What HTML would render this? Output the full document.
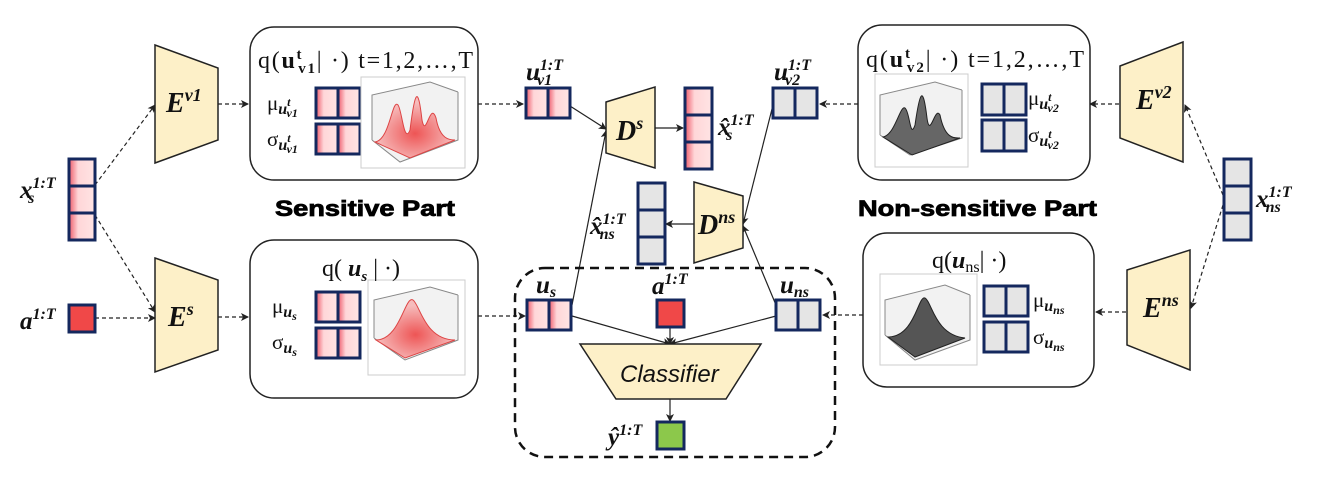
<!DOCTYPE html>
<html><head><meta charset="utf-8"><style>
body{margin:0;background:#fff}
svg{display:block}
.t{font-family:"Liberation Serif","DejaVu Serif",serif}
.bi{font-family:"Liberation Serif",serif;font-weight:bold;font-style:italic}
.hd{font-family:"Liberation Sans","DejaVu Sans",sans-serif;font-weight:bold}
</style></head><body>
<svg width="1331" height="478" viewBox="0 0 1331 478" xmlns="http://www.w3.org/2000/svg">
<defs>
<linearGradient id="pk" x1="0" x2="1" y1="0" y2="0">
<stop offset="0" stop-color="#ee5a6a"/><stop offset="0.35" stop-color="#ffd6d8"/><stop offset="1" stop-color="#ffe4e4"/></linearGradient>
<marker id="ah" markerWidth="8" markerHeight="8" refX="7" refY="4" orient="auto" markerUnits="userSpaceOnUse">
<path d="M0,0 L8,4 L0,8 L2,4 z" fill="#222"/></marker>
<radialGradient id="rd" cx="0.5" cy="0.6" r="0.5"><stop offset="0" stop-color="#e55"/><stop offset="1" stop-color="#f6bcbc"/></radialGradient>
</defs>
<g fill="none" stroke="#222" stroke-width="1.2" marker-end="url(#ah)">
<g stroke-dasharray="4,3">
<line x1="95" y1="185" x2="155" y2="105"/>
<line x1="95" y1="215" x2="155" y2="312"/>
<line x1="95" y1="318" x2="155" y2="318"/>
<line x1="218" y1="104" x2="248" y2="104"/>
<line x1="218" y1="317" x2="248" y2="317"/>
<line x1="478" y1="104" x2="523" y2="104"/>
<line x1="478" y1="316" x2="525" y2="316"/>
<line x1="1119" y1="104" x2="1090" y2="104"/>
<line x1="1126" y1="312" x2="1096" y2="312"/>
<line x1="858" y1="104" x2="820" y2="104"/>
<line x1="863" y1="315" x2="823" y2="315"/>
<line x1="1223" y1="195" x2="1185" y2="105"/>
<line x1="1223" y1="205" x2="1191" y2="308"/>
</g>
<line x1="570" y1="106" x2="606" y2="129"/>
<line x1="572" y1="305" x2="606" y2="131"/>
<line x1="655" y1="128" x2="683" y2="128"/>
<line x1="773" y1="105" x2="743" y2="224"/>
<line x1="776" y1="305" x2="743" y2="226"/>
<line x1="694" y1="224" x2="666" y2="224"/>
<line x1="572" y1="316" x2="670" y2="344"/>
<line x1="670" y1="327" x2="670" y2="344"/>
<line x1="776" y1="316" x2="670" y2="344"/>
<line x1="670" y1="399" x2="670" y2="421"/>
</g>
<g fill="#fff" stroke="#222" stroke-width="1.5">
<rect x="250" y="27" width="228" height="153" rx="24"/>
<rect x="250" y="240" width="228" height="158" rx="24"/>
<rect x="858" y="25" width="232" height="155" rx="24"/>
<rect x="863" y="233" width="231" height="154" rx="24"/>
</g>
<rect x="515" y="268" width="320" height="189" rx="30" fill="none" stroke="#111" stroke-width="2.5" stroke-dasharray="9,6"/>
<g fill="#fdf0c8" stroke="#222" stroke-width="1.5">
<polygon points="155,45 218,68 218,140 155,163"/>
<polygon points="155,258 218,280 218,350 155,372"/>
<polygon points="606,102 655,87 655,168 606,153"/>
<polygon points="694,182 743,196 743,248 694,263"/>
<polygon points="1120,66 1183,42 1183,162 1120,138"/>
<polygon points="1127,270 1190,250 1190,370 1127,345"/>
<polygon points="580,344 761,344 726,399 616,399"/>
</g>
<g stroke="#14285e" stroke-width="3">
<g fill="url(#pk)">
<rect x="69" y="159" width="26" height="27"/><rect x="69" y="186" width="26" height="27"/><rect x="69" y="213" width="26" height="27"/>
<rect x="316" y="88" width="22" height="30"/><rect x="338" y="88" width="22" height="30"/>
<rect x="316" y="124" width="22" height="30"/><rect x="338" y="124" width="22" height="30"/>
<rect x="316" y="292" width="22" height="30"/><rect x="338" y="292" width="22" height="30"/>
<rect x="316" y="328" width="22" height="30"/><rect x="338" y="328" width="22" height="30"/>
<rect x="526" y="88" width="22" height="30"/><rect x="548" y="88" width="22" height="30"/>
<rect x="527" y="300" width="22" height="30"/><rect x="549" y="300" width="22" height="30"/>
<rect x="685" y="88" width="27" height="27"/><rect x="685" y="115" width="27" height="27"/><rect x="685" y="142" width="27" height="27"/>
</g>
<g fill="#e5e5e5">
<rect x="773" y="88" width="22" height="30"/><rect x="795" y="88" width="22" height="30"/>
<rect x="776" y="300" width="22" height="30"/><rect x="798" y="300" width="22" height="30"/>
<rect x="638" y="183" width="27" height="27"/><rect x="638" y="210" width="27" height="27"/><rect x="638" y="237" width="27" height="27"/>
<rect x="982" y="84" width="22" height="31"/><rect x="1004" y="84" width="22" height="31"/>
<rect x="982" y="120" width="22" height="31"/><rect x="1004" y="120" width="22" height="31"/>
<rect x="984" y="286" width="22" height="30"/><rect x="1006" y="286" width="22" height="30"/>
<rect x="984" y="322" width="22" height="30"/><rect x="1006" y="322" width="22" height="30"/>
<rect x="1224" y="159" width="27" height="27"/><rect x="1224" y="186" width="27" height="27"/><rect x="1224" y="213" width="27" height="27"/>
</g>
<rect x="69" y="305" width="26" height="27" fill="#f04848"/>
<rect x="657" y="300" width="27" height="27" fill="#f04848"/>
<rect x="657" y="422" width="27" height="27" fill="#8cc84b"/>
</g>
<g stroke="#ccc" stroke-width="1" fill="#fff">
<rect x="361" y="77" width="104" height="91"/>
<rect x="368" y="280" width="97" height="95"/>
<rect x="875" y="74" width="93" height="93"/>
<rect x="880" y="274" width="97" height="91"/>
</g>
<g stroke-width="1">
<path d="M372,140 L400,162 L458,140 L458,92 M372,140 L372,95 L430,82 L458,92" fill="#f2f2f2" stroke="#888"/>
<path d="M375,142 C390,140 392,98 398,105 C402,110 404,145 410,130 C415,90 418,85 422,120 C426,140 430,100 436,118 C440,140 450,140 455,140 L410,158 Z" fill="url(#rd)" stroke="#d44"/>
<path d="M374,338 L405,360 L458,340 L458,295 M374,338 L374,300 L430,287 L458,295" fill="#f2f2f2" stroke="#888"/>
<path d="M376,340 C400,340 405,295 413,300 C420,305 425,340 455,340 L405,358 Z" fill="url(#rd)" stroke="#d44"/>
<path d="M880,135 L910,155 L962,138 L962,90 M880,135 L880,95 L935,82 L962,90" fill="#f2f2f2" stroke="#888"/>
<path d="M883,137 C895,135 900,105 905,108 C910,112 910,140 915,125 C920,90 923,85 927,118 C930,140 935,105 940,115 C945,140 955,138 960,138 L912,155 Z" fill="#666" stroke="#222"/>
<path d="M885,335 L915,360 L970,340 L970,295 M885,335 L885,300 L945,285 L970,295" fill="#f2f2f2" stroke="#888"/>
<path d="M888,337 C915,337 918,295 925,298 C932,302 935,335 965,338 L915,357 Z" fill="#555" stroke="#222"/>
</g>
<g class="t" fill="#111">
<text x="258" y="68" font-size="24" textLength="215" lengthAdjust="spacing">q(<tspan font-weight="bold">u</tspan><tspan font-size="15" dy="-9" font-weight="bold">t</tspan><tspan font-size="15" dx="-5" dy="14" font-weight="bold">v1</tspan><tspan dy="-5">| ·)  t=1,2,…,T</tspan></text>
<text x="267" y="110" font-size="21">μ<tspan class="bi" font-size="16" dy="4">u</tspan><tspan class="bi" font-size="12" dy="-8">t</tspan><tspan class="bi" font-size="12" dx="-4" dy="11">v1</tspan></text>
<text x="267" y="146" font-size="21">σ<tspan class="bi" font-size="16" dy="4">u</tspan><tspan class="bi" font-size="12" dy="-8">t</tspan><tspan class="bi" font-size="12" dx="-4" dy="11">v1</tspan></text>
<text x="322" y="276" font-size="24">q( <tspan class="bi">u</tspan><tspan class="bi" font-size="15" dy="5">s</tspan><tspan dy="-5"> | ·)</tspan></text>
<text x="272" y="313" font-size="21">μ<tspan class="bi" font-size="16" dy="4">u</tspan><tspan class="bi" font-size="12" dy="3">s</tspan></text>
<text x="272" y="349" font-size="21">σ<tspan class="bi" font-size="16" dy="4">u</tspan><tspan class="bi" font-size="12" dy="3">s</tspan></text>
<text x="866" y="67" font-size="24" textLength="218" lengthAdjust="spacing">q(<tspan font-weight="bold">u</tspan><tspan font-size="15" dy="-9" font-weight="bold">t</tspan><tspan font-size="15" dx="-5" dy="14" font-weight="bold">v2</tspan><tspan dy="-5">| ·)  t=1,2,…,T</tspan></text>
<text x="1028" y="105" font-size="21">μ<tspan class="bi" font-size="16" dy="4">u</tspan><tspan class="bi" font-size="12" dy="-8">t</tspan><tspan class="bi" font-size="12" dx="-4" dy="11">v2</tspan></text>
<text x="1028" y="142" font-size="21">σ<tspan class="bi" font-size="16" dy="4">u</tspan><tspan class="bi" font-size="12" dy="-8">t</tspan><tspan class="bi" font-size="12" dx="-4" dy="11">v2</tspan></text>
<text x="932" y="268" font-size="24">q(<tspan class="bi">u</tspan><tspan font-size="16" dy="4">ns</tspan><tspan dy="-4">| ·)</tspan></text>
<text x="1033" y="307" font-size="21">μ<tspan class="bi" font-size="16" dy="4">u</tspan><tspan class="bi" font-size="12" dy="3">ns</tspan></text>
<text x="1033" y="344" font-size="21">σ<tspan class="bi" font-size="16" dy="4">u</tspan><tspan class="bi" font-size="12" dy="3">ns</tspan></text>
</g>
<g class="bi" fill="#111">
<text x="166" y="112" font-size="28">E<tspan font-size="18" dy="-11">v1</tspan></text>
<text x="168" y="326" font-size="28">E<tspan font-size="18" dy="-11">s</tspan></text>
<text x="1136" y="109" font-size="28">E<tspan font-size="18" dy="-11">v2</tspan></text>
<text x="1143" y="317" font-size="28">E<tspan font-size="18" dy="-11">ns</tspan></text>
<text x="616" y="140" font-size="28">D<tspan font-size="18" dy="-11">s</tspan></text>
<text x="698" y="234" font-size="28">D<tspan font-size="18" dy="-11">ns</tspan></text>
<text x="20" y="198" font-size="25">x<tspan font-size="16" dy="-10">1:T</tspan><tspan font-size="16" dx="-26" dy="15">s</tspan></text>
<text x="20" y="329" font-size="25">a<tspan font-size="16" dy="-10">1:T</tspan></text>
<text x="1256" y="207" font-size="25">x<tspan font-size="16" dy="-10">1:T</tspan><tspan font-size="16" dx="-26" dy="15">ns</tspan></text>
<text x="526" y="80" font-size="25">u<tspan font-size="16" dy="-10">1:T</tspan><tspan font-size="16" dx="-26" dy="15">v1</tspan></text>
<text x="774" y="80" font-size="25">u<tspan font-size="16" dy="-10">1:T</tspan><tspan font-size="16" dx="-26" dy="15">v2</tspan></text>
<text x="718" y="135" font-size="25">x̂<tspan font-size="16" dy="-10">1:T</tspan><tspan font-size="16" dx="-26" dy="15">s</tspan></text>
<text x="590" y="234" font-size="25">x̂<tspan font-size="16" dy="-10">1:T</tspan><tspan font-size="16" dx="-26" dy="15">ns</tspan></text>
<text x="536" y="293" font-size="25">u<tspan font-size="16" dy="4">s</tspan></text>
<text x="652" y="294" font-size="25">a<tspan font-size="16" dy="-10">1:T</tspan></text>
<text x="780" y="293" font-size="25">u<tspan font-size="16" dy="4">ns</tspan></text>
<text x="608" y="445" font-size="25">ŷ<tspan font-size="16" dy="-10">1:T</tspan></text>
</g>
<text x="620" y="382" font-family="Liberation Sans,sans-serif" font-style="italic" font-size="24" fill="#111">Classifier</text>
<text x="275" y="216" class="hd" font-size="22" fill="#000" stroke="#000" stroke-width="0.8" textLength="180" lengthAdjust="spacingAndGlyphs">Sensitive Part</text>
<text x="858" y="216" class="hd" font-size="22" fill="#000" stroke="#000" stroke-width="0.8" textLength="239" lengthAdjust="spacingAndGlyphs">Non-sensitive Part</text>
</svg>
</body></html>
